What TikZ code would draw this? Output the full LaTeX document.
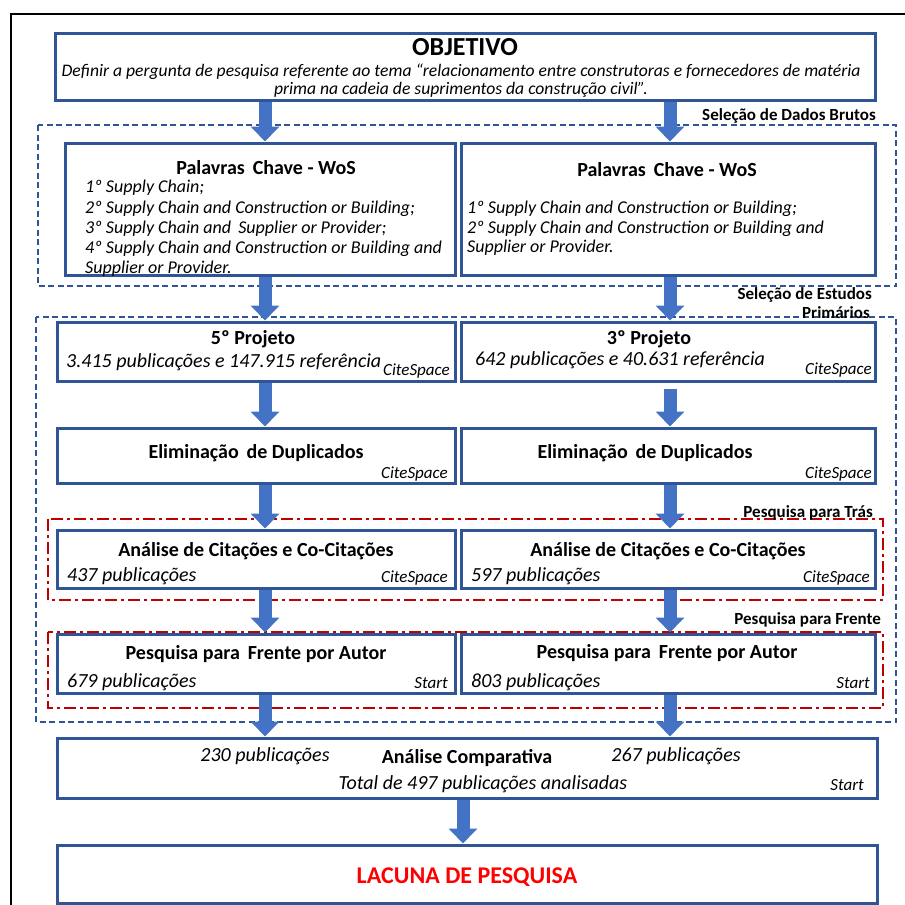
\documentclass[tikz,border=0pt]{standalone}
\usepackage{fontspec}
\setmainfont{Carlito}
\usetikzlibrary{arrows.meta,calc}

\definecolor{boxblue}{HTML}{2F5597}
\definecolor{arrowblue}{HTML}{4472C4}
\definecolor{zonered}{HTML}{C00000}

\begin{document}
\begin{tikzpicture}[x=1pt, y=-1pt,
    box/.style={draw=boxblue, line width=3pt, fill=white, inner sep=0pt},
    blockarrow/.style={draw=arrowblue, line width=13pt,
        -{Triangle[width=28pt,length=15pt]}},
    zonedata/.style={draw=boxblue, line width=1.3pt, dash pattern=on 6pt off 3.5pt},
    zonesearch/.style={draw=zonered, line width=1.5pt,
        dash pattern=on 12pt off 4pt on 3pt off 4pt},
    title/.style={font=\fontsize{20}{24}\selectfont\bfseries, inner sep=0pt},
    body/.style={font=\fontsize{18}{20.2}\selectfont\itshape, inner sep=0pt,
        anchor=west, align=left},
    count/.style={font=\fontsize{20}{24}\selectfont\itshape, inner sep=0pt},
    tool/.style={font=\fontsize{17}{20}\selectfont\itshape, inner sep=0pt, anchor=east},
    zone/.style={font=\fontsize{17}{20}\selectfont\bfseries, inner sep=0pt, anchor=east}]

    \useasboundingbox (0,0) rectangle (905,905);

    % moldura
    \draw[line width=2pt] (11,905) -- (11,14) -- (905,14);

    % zonas tracejadas
    \draw[zonedata] (38,125) rectangle (896,286);
    \draw[zonedata] (36,317) rectangle (896,722);
    \draw[zonesearch] (48,519) rectangle (883,600);
    \draw[zonesearch] (48,632) rectangle (883,708);

    \node[zone] (zDados) at (876,116) {Seleção de Dados Brutos};
    \node[zone] (zEstudos) at (872,295) {Seleção de Estudos};
    \node[zone] (zPrim) at (870,313) {Primários};
    \node[zone] (zTras) at (873,513) {Pesquisa para Trás};
    \node[zone] (zFrente) at (881,620) {Pesquisa para Frente};

    % objetivo
    \node[box, minimum width=820pt, minimum height=67pt] (obj) at (465,66.5) {};
    \node[title, font=\fontsize{26}{28}\selectfont\bfseries] (objT) at (465,47) {OBJETIVO};
    \node[body, anchor=center, align=center, font=\fontsize{17.6}{18}\selectfont\itshape]
        (objD) at (461,81) {Definir a pergunta de pesquisa referente ao tema “relacionamento entre construtoras e fornecedores de matéria\\
        prima na cadeia de suprimentos da construção civil”.};

    % palavras chave
    \node[box, minimum width=390pt, minimum height=132pt] (kwL) at (260,209) {};
    \node[box, minimum width=414pt, minimum height=132pt] (kwR) at (668,209) {};
    \node[title] (kwLT) at (266,168) {Palavras\, Chave - WoS};
    \node[title] (kwRT) at (667,170) {Palavras\, Chave - WoS};
    \node[body] (kwLD) at (85,228.5) {1º Supply Chain;\\
        2º Supply Chain and Construction or Building;\\
        3º Supply Chain and\, Supplier or Provider;\\
        4º Supply Chain and Construction or Building and\\
        Supplier or Provider.};
    \node[body, font=\fontsize{18}{19.5}\selectfont\itshape] (kwRD) at (467,228.5)
        {1º Supply Chain and Construction or Building;\\
        2º Supply Chain and Construction or Building and\\
        Supplier or Provider.};

    % projetos
    \node[box, minimum width=398pt, minimum height=59pt] (projL) at (256,351.5) {};
    \node[box, minimum width=414pt, minimum height=59pt] (projR) at (668,351.5) {};
    \node[title] (projLT) at (253,339) {5º Projeto};
    \node[title] (projRT) at (649,339) {3º Projeto};
    \node[count, anchor=west] (projLD) at (66,362) {3.415 publicações e 147.915 referência};
    \node[count, anchor=west] (projRD) at (475,360) {642 publicações e 40.631 referência};
    \node[tool] (projLS) at (450,371) {CiteSpace};
    \node[tool] (projRS) at (872,370) {CiteSpace};

    % eliminacao de duplicados
    \node[box, minimum width=398pt, minimum height=55pt] (elimL) at (256,455.5) {};
    \node[box, minimum width=414pt, minimum height=55pt] (elimR) at (668,455.5) {};
    \node[title] (elimLT) at (256,453) {Eliminação\, de Duplicados};
    \node[title] (elimRT) at (645,453) {Eliminação\, de Duplicados};
    \node[tool] (elimLS) at (448,474) {CiteSpace};
    \node[tool] (elimRS) at (872,474) {CiteSpace};

    % citacoes
    \node[box, minimum width=398pt, minimum height=58pt] (citL) at (256,559) {};
    \node[box, minimum width=414pt, minimum height=58pt] (citR) at (668,559) {};
    \node[title] (citLT) at (256,551) {Análise de Citações e Co-Citações};
    \node[title] (citRT) at (668,551) {Análise de Citações e Co-Citações};
    \node[count, anchor=west] (citLD) at (67,576) {437 publicações};
    \node[count, anchor=west] (citRD) at (471,576) {597 publicações};
    \node[tool] (citLS) at (448,578) {CiteSpace};
    \node[tool] (citRS) at (870,578) {CiteSpace};

    % pesquisa para frente
    \node[box, minimum width=398pt, minimum height=59pt] (frenL) at (256,663.5) {};
    \node[box, minimum width=414pt, minimum height=59pt] (frenR) at (668,663.5) {};
    \node[title] (frenLT) at (256,654) {Pesquisa para\, Frente por Autor};
    \node[title] (frenRT) at (667,653) {Pesquisa para\, Frente por Autor};
    \node[count, anchor=west] (frenLD) at (67,682) {679 publicações};
    \node[count, anchor=west] (frenRD) at (471,682) {803 publicações};
    \node[tool] (frenLS) at (448,683) {Start};
    \node[tool] (frenRS) at (870,683) {Start};

    % analise comparativa
    \node[box, minimum width=820pt, minimum height=60pt] (comp) at (467,768) {};
    \node[count] (compL) at (265,756) {230 publicações};
    \node[title] (compT) at (467,758) {Análise Comparativa};
    \node[count] (compR) at (676,756) {267 publicações};
    \node[count] (compD) at (483,784) {Total de 497 publicações analisadas};
    \node[tool] (compS) at (864,785) {Start};

    % lacuna
    \node[box, minimum width=820pt, minimum height=58pt] (lac) at (467,874) {};
    \node[title, font=\fontsize{24}{26}\selectfont\bfseries, text=red] (lacT) at (467,877)
        {LACUNA DE PESQUISA};

    % setas
    \coordinate (aL) at (265,0);
    \coordinate (aR) at (670,0);
    \draw[blockarrow] (obj.south -| aL) -- (kwL.north -| aL);
    \draw[blockarrow] (obj.south -| aR) -- (kwR.north -| aR);
    \draw[blockarrow] (kwL.south -| aL) -- (projL.north -| aL);
    \draw[blockarrow] (kwR.south -| aR) -- (projR.north -| aR);
    \draw[blockarrow] (projL.south -| aL) -- (elimL.north -| aL);
    \draw[blockarrow, shorten <=6pt] (projR.south -| aR) -- (elimR.north -| aR);
    \draw[blockarrow] (elimL.south -| aL) -- (citL.north -| aL);
    \draw[blockarrow] (elimR.south -| aR) -- (citR.north -| aR);
    \draw[blockarrow] (citL.south -| aL) -- (frenL.north -| aL);
    \draw[blockarrow] (citR.south -| aR) -- (frenR.north -| aR);
    \draw[blockarrow] (frenL.south -| aL) -- (comp.north -| aL);
    \draw[blockarrow] (frenR.south -| aR) -- (comp.north -| aR);
    \draw[blockarrow] ($(comp.south)+(-4,0)$) -- ($(lac.north)+(-4,0)$);

\end{tikzpicture}
\end{document}
